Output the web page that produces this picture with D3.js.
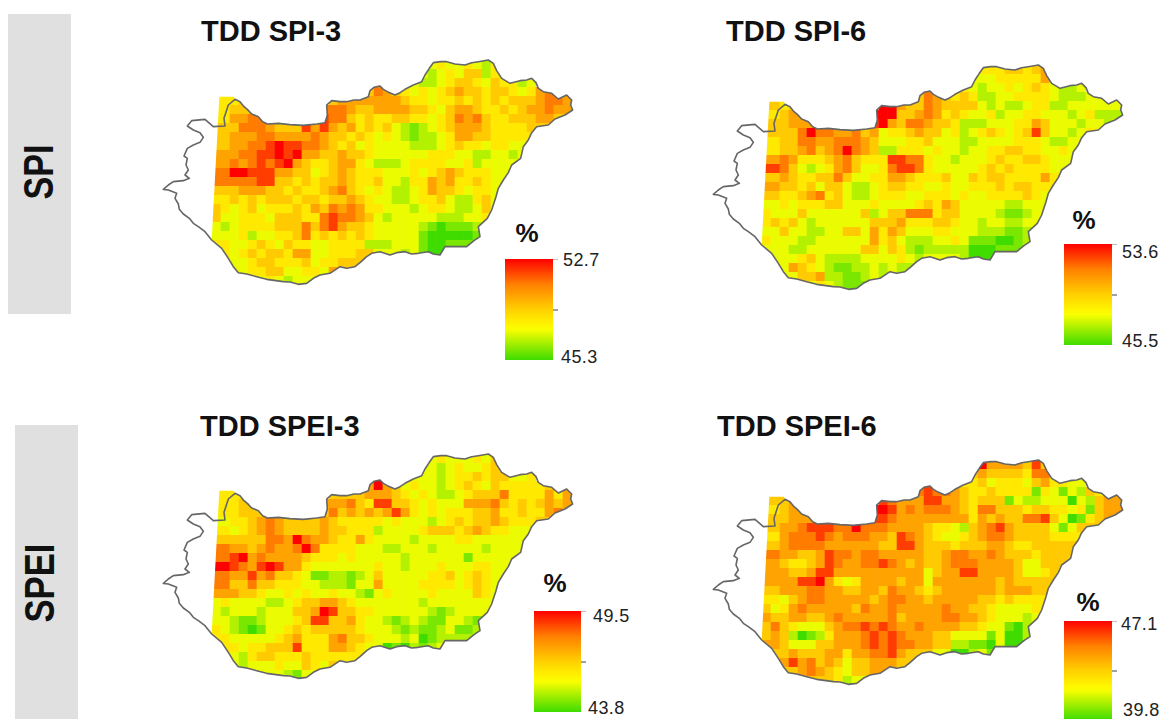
<!DOCTYPE html>
<html><head><meta charset="utf-8">
<script src="https://cdn.jsdelivr.net/npm/d3@7"></script>
<style>html,body{margin:0;padding:0;background:#fff}svg{display:block;font-family:"Liberation Sans",Arial,sans-serif}</style>
</head><body><svg id="c" width="1163" height="719"></svg>
<script>
// Cell levels (0 = panel minimum, 9 = panel maximum); "." = no data
const spi3 = [
"........................34334324",
".......................3234355245",
"..................76.332234554354423",
".................576543434565545543467",
"4445.........566666665443445454545556776",
"44555.......7776556666554356654454566766",
"446677......8775454455443457675445556655",
"555777655586865645453212345666544445556",
"556667766667655454343212234665544444",
"55667789887765453433332223454434433",
"66677889896655655433333344433223323",
"6676787896544566432223444433423333",
"7799888665534565444333434565444333",
"777778855454556544533244656445433",
"555666554544567543432234655434433",
"44545455545545565433223445322453",
"54345344454657676443332344322353",
"53344435554478776532333332223343",
"3234444555757865543333321011122",
"3334233445745454543333310000012",
"443345435443344442223331001111",
".4345455466334445533323100",
".3334554445344555",
"..3344553344365",
".....3432333"];
const spi6 = [
"........................44455456",
".......................3334444463",
".....................343233434543223",
".................576545422334444322233",
"5545.........996557655553232234422333333",
"44566.......9995567645433423344333234222",
"555666......8965776554222333446533323323",
"555579776675634456553423454345853323433",
"445577667776533344533322333344432233",
"44556756797652244434332334455443343",
"66764445675444887743323334544554333",
"8875323467533478874333334545444433",
"5565445575334466544453354554444644",
"665545355322345544334334445455444",
"554456745322344433444343344445433",
"33434445533343333454653333322333",
"43335333333523557774553333211233",
"45453233333355564445543323322333",
"3353322335536465333443332221122",
"4333223333336453222334311100122",
"333223333335535421222220001111",
".3334532222333343233332000",
".3365432112232322",
"..3355622112322",
".....3432111"];
const spei3 = [
"........................34333435",
".......................3323433454",
".....................333323445455334",
".................696534332345435444445",
"4444.........555566654343223455574444646",
"44455.......6667548855434333666754545656",
"444555......5756565686434344455644544675",
"334456765555654444434333234545565444555",
"443456765555655444233334555456544333",
"55555577697665446433332333344333333",
"77665676679744443332233323333323333",
"7789676666544434333332333333133333",
"9987689866433333334332333433344333",
"776686755431122123533333445345433",
"775575544433222133633334444345433",
"66655433434334332134333343333543",
"34333322345566543333333233333333",
"32333233355698554433333321233333",
"3321123334588556433212321133212",
"4321013345455555433321211231122",
"443333345644467554333230122222",
".4434455584446654330102123",
".3324554445444444",
"..3233343354354",
".....3332133"];
const spei6 = [
"........................96666585",
".......................5655554774",
".....................444534443564433",
".................787765445444414313254",
"5556.........876668866545551322333032566",
"44566.......9986767776547755545544341566",
"555666......8876666666646565577853014566",
"556678887797776666544325678655553135555",
"446777876777665876543345677655554444",
"55677776666665588655545556654455555",
"77665568776776666655677667655545555",
"6654456876677876565567776666533555",
"6665568866666666663566886666533455",
"666688964346666566366666665655555",
"556667766556657665456666665666555",
"44356776666656776656666655454444",
"53467666665766766666766554333344",
"65566556766666756666776654333233",
"5754333567787876676666554331022",
"5652012466678787666553333130022",
"665333556667878776655221103001",
".5565556646677865553300231",
".5686756535566655",
"..5567654355665",
".....5554233"];

const panelTitles = ["TDD SPI-3","TDD SPI-6","TDD SPEI-3","TDD SPEI-6"];
const panelRanges = [[45.3,52.7],[45.5,53.6],[43.8,49.5],[39.8,47.1]];
const panelCells = [spi3,spi6,spei3,spei6];
const rowLabels = ["SPI","SPEI"];

// Country border in map units, clockwise; the east part also bounds the raster
const borderEast = [[255,148],[270,155],[282,170],[292,178],[305,192],[325,200],[338,215],[352,222],[385,220],[420,224],[460,226],[500,222],[525,218],[532,195],[530,165],[545,152],[570,155],[590,155],[612,150],[630,150],[655,140],[660,122],[672,112],[690,108],[700,118],[712,125],[735,135],[750,128],[765,118],[790,105],[815,95],[825,75],[838,55],[850,38],[872,35],[890,35],[915,42],[945,45],[965,38],[985,35],[1015,30],[1030,40],[1040,62],[1055,85],[1080,100],[1110,92],[1130,90],[1145,85],[1158,98],[1165,115],[1180,125],[1205,130],[1225,147],[1250,135],[1265,150],[1262,165],[1268,180],[1245,195],[1215,207],[1195,225],[1160,230],[1145,248],[1135,270],[1120,290],[1112,325],[1085,345],[1075,368],[1060,390],[1045,415],[1038,440],[1025,480],[1012,505],[985,530],[990,560],[972,572],[950,590],[920,590],[885,590],[870,615],[850,612],[835,605],[805,610],[785,612],[765,605],[740,608],[720,615],[690,605],[665,610],[650,620],[630,638],[615,650],[590,655],[570,650],[540,670],[510,675],[490,685],[470,700],[445,703],[420,696],[400,695],[350,688],[320,680],[290,672],[265,668],[250,650],[235,625],[215,595],[185,570]];
const borderWest = [[165,545],[145,530],[130,520],[118,505],[100,492],[88,478],[85,462],[75,445],[80,430],[55,420],[40,418],[55,405],[70,395],[100,392],[118,385],[105,375],[115,360],[108,345],[112,325],[102,318],[112,295],[130,285],[150,277],[160,262],[150,248],[130,240],[112,228],[125,212],[165,208],[190,230],[225,228],[222,205],[235,165],[255,148]];
const rasterCorners = [[208,140],[252,140]];

const panelOrigins = [[150,50],[700,55],[150,444],[700,450]];
const legendBoxes = [[505,259,48,101],[1064,244,48,101],[534,611,47,101],[1064,621,48,99]];
const legendLabelNudge = [[1,1,-1,-3],[1,8,1,-4],[3,5,-2,-4],[0,3,2,-10]];
const percentSpots = [[527,233],[1084,220],[555,583],[1088,602]];
const titleSpots = [[201,41],[726,41],[200,436],[717,436]];
const sideBars = [[8,14,63,300],[15,425,63,294]];
const sideLabelSpots = [[53,172,55],[54,583,79]];

const colCount = 41, cellUnits = 27;
const gridX = d3.scaleLinear([0,colCount],[185,185+colCount*cellUnits]);
const gridY = d3.scaleLinear([0,25],[30,30+25*cellUnits]);
const ramp = d3.scaleLinear()
  .domain([0,.31,.5,.75,1])
  .range(["#3fdc00","#ffff00","#ffd000","#ff8000","#ff0000"]);

const svg = d3.select("#c");
const defs = svg.append("defs");
defs.append("filter").attr("id","soft").attr("x","-5%").attr("y","-5%").attr("width","110%").attr("height","110%")
  .append("feGaussianBlur").attr("stdDeviation",0.7);

sideBars.forEach((b,i)=>{
  svg.append("rect").attr("x",b[0]).attr("y",b[1]).attr("width",b[2]).attr("height",b[3]).attr("fill","#e0e0e0");
  const s = sideLabelSpots[i];
  svg.append("text").attr("transform",`translate(${s[0]},${s[1]}) rotate(-90)`)
    .attr("text-anchor","middle").attr("font-weight","bold").attr("font-size",42)
    .attr("textLength",s[2]).attr("lengthAdjust","spacingAndGlyphs").attr("fill","#111").text(rowLabels[i]);
});

panelTitles.forEach((title,p)=>{
  const [ox,oy] = panelOrigins[p];
  const x = d3.scaleLinear([0,1320],[ox,ox+440]);
  const y = d3.scaleLinear([0,750],[oy,oy+250]);
  const line = d3.line().x(d=>x(d[0])).y(d=>y(d[1]));
  const [lo,hi] = panelRanges[p];
  const level = d3.scaleLinear([0,3,9],[lo,lo+.28*(hi-lo),hi]);
  const frac = d3.scaleLinear([lo,hi],[0,1]);

  svg.append("text").attr("x",titleSpots[p][0]).attr("y",titleSpots[p][1])
    .attr("font-weight","bold").attr("font-size",29).attr("fill","#111").text(title);

  defs.append("clipPath").attr("id","mask"+p).append("path")
    .attr("d",line(rasterCorners.concat(borderEast))+"Z");

  const cells = [];
  panelCells[p].forEach((row,r)=>{
    for(let c=0;c<row.length;c++){
      if(row[c]!==".") cells.push({r,c,v:level(+row[c])});
    }
  });
  const g = svg.append("g").attr("clip-path",`url(#mask${p})`).append("g").attr("filter","url(#soft)");
  g.selectAll("rect").data(cells).join("rect")
    .attr("x",d=>x(gridX(d.c))).attr("y",d=>y(gridY(d.r)))
    .attr("width",x(gridX(1))-x(gridX(0))+.3).attr("height",y(gridY(1))-y(gridY(0))+.3)
    .attr("fill",d=>ramp(frac(d.v)));

  svg.append("path").attr("d",line(borderEast.concat(borderWest))+"Z")
    .attr("fill","none").attr("stroke","#666").attr("stroke-width",1.6).attr("stroke-linejoin","round");

  // legend
  const [lx,ly,lw,lh] = legendBoxes[p];
  const nudge = legendLabelNudge[p];
  const grad = defs.append("linearGradient").attr("id","lg"+p).attr("x1",0).attr("x2",0).attr("y1",1).attr("y2",0);
  d3.range(0,1.001,.05).forEach(t=>grad.append("stop").attr("offset",t).attr("stop-color",ramp(t)));
  svg.append("rect").attr("x",lx).attr("y",ly).attr("width",lw).attr("height",lh).attr("fill",`url(#lg${p})`);
  const ly2 = d3.scaleLinear([lo,hi],[ly+lh,ly]);
  const axis = d3.axisRight(ly2).tickValues([lo,(lo+hi)/2,hi]).tickSize(5).tickPadding(4)
    .tickFormat(v=>(v===lo||v===hi)?d3.format(".1f")(v):"");
  const ag = svg.append("g").attr("transform",`translate(${lx+lw},0)`).call(axis);
  ag.select(".domain").remove();
  ag.selectAll("text")
    .attr("font-size",18).attr("letter-spacing",.4).attr("font-family","'Liberation Sans',Arial,sans-serif").attr("fill","#222")
    .attr("transform",v=>v===hi?`translate(${nudge[0]},${nudge[1]})`:v===lo?`translate(${nudge[2]},${nudge[3]})`:null);
  ag.selectAll("line").attr("stroke","#444")
    .attr("stroke-opacity",v=>v===hi?.35:v===lo?0:1);
  svg.append("text").attr("x",percentSpots[p][0]).attr("y",percentSpots[p][1]+9).attr("text-anchor","middle")
    .attr("font-weight","bold").attr("font-size",26).attr("fill","#111").text("%");
});
</script></body></html>
